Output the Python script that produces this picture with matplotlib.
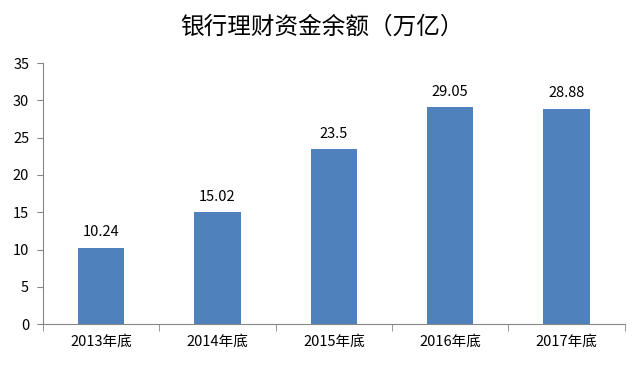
import matplotlib
matplotlib.use("Agg")
import matplotlib.pyplot as plt
import numpy as np

plt.rcParams["font.family"] = ["Noto Sans CJK SC", "DejaVu Sans"]

categories = ["2013年底", "2014年底", "2015年底", "2016年底", "2017年底"]
values = [10.24, 15.02, 23.5, 29.05, 28.88]
labels = ["10.24", "15.02", "23.5", "29.05", "28.88"]
yticks = [0, 5, 10, 15, 20, 25, 30, 35]

bar_color = "#4F81BD"
axis_color = "#868686"

fig = plt.figure(figsize=(6.44, 3.67), dpi=100)
ax = fig.add_axes([0.0668, 0.117, 0.9032, 0.711])

x = np.arange(len(categories))
ax.bar(x, values, width=0.4, color=bar_color, zorder=2)
for xi, v, lab in zip(x, values, labels):
    ax.annotate(lab, (xi, v), xytext=(0, 6), textcoords="offset points",
                ha="center", va="bottom", fontsize=10.5, color="#000000")

ax.set_xlim(-0.5, len(categories) - 0.5)
ax.set_ylim(0, 35)
ax.set_yticks(yticks)
ax.set_yticklabels([str(t) for t in yticks], fontsize=10.5)

ax.set_xticks(x)
ax.set_xticklabels(categories, fontsize=10.5)
ax.tick_params(axis="x", length=0, pad=8)
ax.set_xticks(np.arange(-0.5, len(categories), 1.0), minor=True)
ax.tick_params(axis="x", which="minor", length=5, color=axis_color, direction="out")
ax.tick_params(axis="y", length=4, color=axis_color, direction="out", pad=6)

for s in ["top", "right"]:
    ax.spines[s].set_visible(False)
for s in ["left", "bottom"]:
    ax.spines[s].set_color(axis_color)
    ax.spines[s].set_linewidth(0.8)

fig.text(0.5, 0.925, "银行理财资金余额（万亿）", ha="center", va="center",
         fontsize=17, fontweight="medium", color="#000000")

fig.savefig("out.png", dpi=100)
